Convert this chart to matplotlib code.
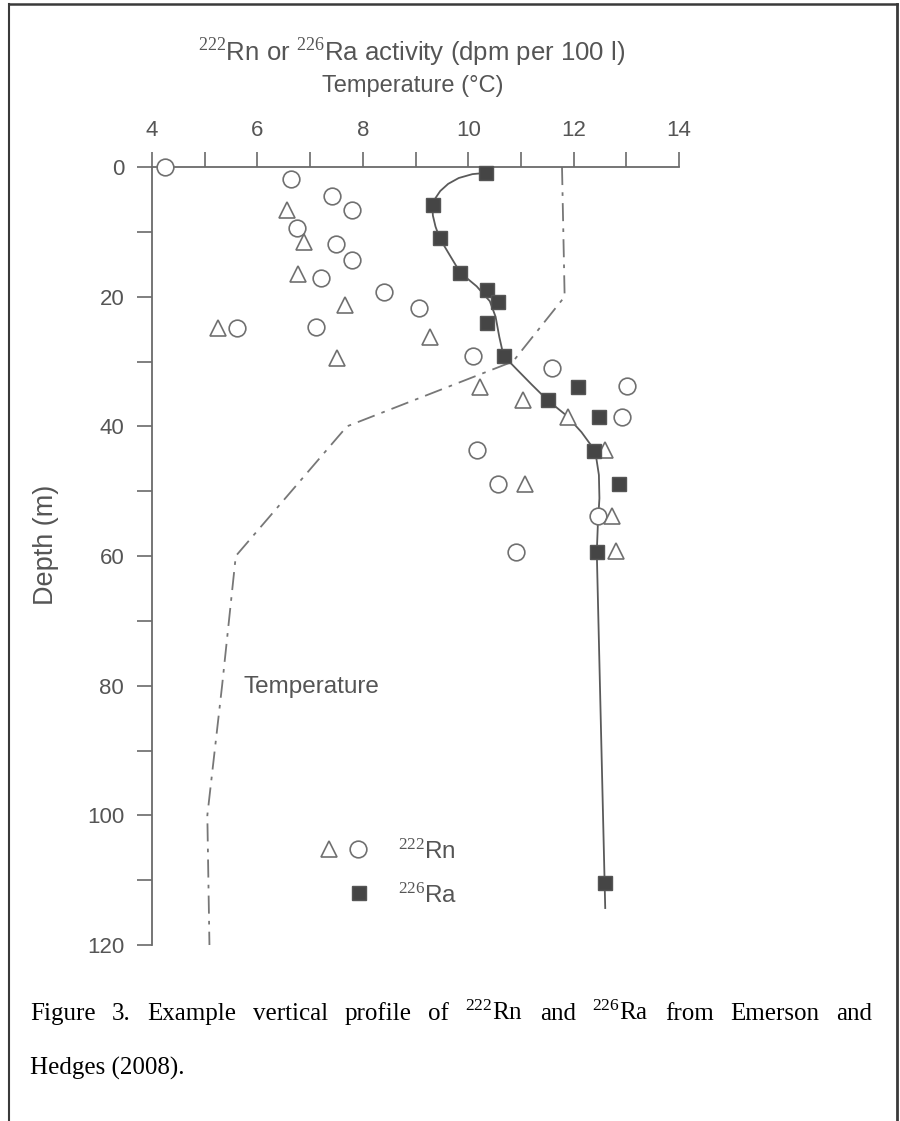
import matplotlib
matplotlib.use("Agg")
import matplotlib.pyplot as plt
import numpy as np

# ---------------- data ----------------
rn_circle_activity = [4.25, 6.64, 7.42, 7.79, 6.75, 7.50, 7.79, 7.21, 8.40, 9.07,
                      5.62, 7.12, 10.10, 11.59, 13.02, 12.91, 10.16, 10.57, 12.46, 10.90]
rn_circle_depth = [0.0, 1.9, 4.4, 6.7, 9.4, 11.9, 14.4, 17.1, 19.3, 21.8,
                   24.9, 24.7, 29.1, 31.0, 33.8, 38.6, 43.7, 48.9, 53.8, 59.4]

rn_triangle_activity = [6.57, 6.88, 6.77, 7.67, 5.25, 9.27, 7.51, 10.23, 11.04, 11.90,
                        12.60, 11.08, 12.73, 12.80]
rn_triangle_depth = [6.6, 11.5, 16.5, 21.3, 24.9, 26.2, 29.4, 34.0, 36.0, 38.6,
                     43.7, 48.9, 53.9, 59.2]

ra_activity = [10.34, 9.33, 9.46, 9.85, 10.36, 10.56, 10.36, 10.67, 12.08, 11.51,
               12.49, 12.39, 12.86, 12.44, 12.60]
ra_depth = [0.9, 5.9, 11.0, 16.3, 18.9, 20.8, 24.0, 29.1, 33.9, 36.0,
            38.6, 43.8, 48.9, 59.4, 110.4]

ra_curve_activity = [10.34, 10.08, 9.82, 9.62, 9.47, 9.37, 9.32, 9.33, 9.38, 9.46, 9.65,
                     9.85, 10.16, 10.41, 10.52, 10.59, 10.67, 10.92, 11.21, 11.51,
                     11.86, 12.15, 12.41, 12.48, 12.49, 12.46, 12.44, 12.60]
ra_curve_depth = [0.9, 1.1, 1.7, 2.6, 3.7, 4.9, 6.1, 7.5, 9.2, 11.0, 13.6,
                  16.3, 18.4, 20.7, 23.1, 26.2, 29.1, 31.2, 33.6, 36.0,
                  38.3, 40.9, 43.8, 47.5, 51.1, 55.2, 59.4, 114.3]

temperature = [11.78, 11.83, 10.85, 7.70, 5.59, 5.33, 5.05, 5.09]
temperature_depth = [0.0, 20.0, 30.0, 40.0, 60.0, 80.0, 100.0, 120.0]

x_ticks_major = [4, 6, 8, 10, 12, 14]
y_ticks_major = [0, 20, 40, 60, 80, 100, 120]

# ---------------- style ----------------
plt.rcParams['font.family'] = ['Liberation Sans', 'DejaVu Sans']
plt.rcParams['mathtext.fontset'] = 'custom'
plt.rcParams['mathtext.rm'] = 'Liberation Sans'
plt.rcParams['mathtext.it'] = 'Liberation Sans'

W, H = 900, 1121
fig = plt.figure(figsize=(W / 100, H / 100), dpi=100)
fig.patch.set_facecolor('white')

gray_text = '#555555'
axis_col = '#6a6a6a'

x0, x1 = 152, 679
y0, y1 = 167, 945
ax = fig.add_axes([x0 / W, 1 - y1 / H, (x1 - x0) / W, (y1 - y0) / H])
ax.set_facecolor('none')
ax.set_xlim(4, 14)
ax.set_ylim(120, 0)

for s in ['right', 'bottom']:
    ax.spines[s].set_visible(False)
for s in ['top', 'left']:
    ax.spines[s].set_color(axis_col)
    ax.spines[s].set_linewidth(1.3)

ax.xaxis.tick_top()
ax.set_xticks(np.arange(4, 15, 1), minor=True)
ax.set_xticks(x_ticks_major)
ax.set_xticklabels([str(v) for v in x_ticks_major])
ax.set_yticks(np.arange(0, 121, 10), minor=True)
ax.set_yticks(y_ticks_major)
ax.set_yticklabels([str(v) for v in y_ticks_major])
ax.tick_params(axis='both', which='both', direction='out', length=11, width=1.2,
               color=axis_col, labelcolor=gray_text, labelsize=16)
ax.tick_params(axis='x', which='both', pad=8)
ax.tick_params(axis='y', which='both', pad=9)

# temperature profile (dash-dot)
ax.plot(temperature, temperature_depth, color='#777777', lw=1.3,
        linestyle=(0, (10, 4, 2, 4)), clip_on=False)

# Ra fitted curve
ax.plot(ra_curve_activity, ra_curve_depth, color='#5a5a5a', lw=1.3, clip_on=False)

# markers
ax.plot(rn_circle_activity, rn_circle_depth, linestyle='none', marker='o', ms=12,
        mfc='white', mec='#707070', mew=1.2, clip_on=False, zorder=4)
ax.plot(rn_triangle_activity, rn_triangle_depth, linestyle='none', marker='^', ms=12,
        mfc='white', mec='#707070', mew=1.2, clip_on=False, zorder=4)
ax.plot(ra_activity, ra_depth, linestyle='none', marker='s', ms=10.5,
        mfc='#454545', mec='#555555', mew=1.0, clip_on=False, zorder=5)

# legend (drawn manually like the original)
def px(x, y):
    return x / W, 1 - y / H

fig.lines.append(plt.Line2D([329 / W], [1 - 849 / H], marker='^', ms=12, mfc='white',
                            mec='#707070', mew=1.2, linestyle='none',
                            transform=fig.transFigure))
fig.lines.append(plt.Line2D([358 / W], [1 - 849 / H], marker='o', ms=12, mfc='white',
                            mec='#707070', mew=1.2, linestyle='none',
                            transform=fig.transFigure))
fig.lines.append(plt.Line2D([359 / W], [1 - 893 / H], marker='s', ms=10.5, mfc='#454545',
                            mec='#555555', mew=1.0, linestyle='none',
                            transform=fig.transFigure))
fig.text(*px(398, 851), r'$^{222}$Rn', fontsize=17.5, color=gray_text, va='center', ha='left')
fig.text(*px(398, 895), r'$^{226}$Ra', fontsize=17.5, color=gray_text, va='center', ha='left')

fig.text(*px(243, 687), 'Temperature', fontsize=17.5, color=gray_text, va='center', ha='left')

# axis titles
fig.text(*px(412, 53), r'$^{222}$Rn or $^{226}$Ra activity (dpm per 100 l)', fontsize=18.5,
         color=gray_text, ha='center', va='center')
fig.text(*px(413, 86), 'Temperature (°C)', fontsize=17, color=gray_text,
         ha='center', va='center')
fig.text(*px(46, 545), 'Depth (m)', fontsize=19.5, color=gray_text, rotation=90,
         ha='center', va='center')

# frame
frame_col = '#3a3a3a'
fig.lines.append(plt.Line2D([9 / W, 897 / W], [1 - 4 / H, 1 - 4 / H], color=frame_col,
                            lw=1.8, transform=fig.transFigure))
fig.lines.append(plt.Line2D([9 / W, 9 / W], [1 - 4 / H, 0], color=frame_col,
                            lw=1.5, transform=fig.transFigure))
fig.lines.append(plt.Line2D([897 / W, 897 / W], [1 - 4 / H, 0], color=frame_col,
                            lw=2.0, transform=fig.transFigure))

# caption (justified first line)
cap_kw = dict(fontsize=18, color='black', va='baseline', ha='left',
              family=['Liberation Serif', 'DejaVu Serif'])
words = ['Figure', '3.', 'Example', 'vertical', 'profile', 'of', r'$\mathregular{^{222}}$Rn',
         'and', r'$\mathregular{^{226}}$Ra', 'from', 'Emerson', 'and']
plt.rcParams['mathtext.rm'] = 'Liberation Serif'
texts = [fig.text(0, 1 - 1020 / H, w, **cap_kw) for w in words]
fig.canvas.draw()
r = fig.canvas.get_renderer()
widths = [t.get_window_extent(r).width for t in texts]
cx0, cx1 = 30, 872
gap = (cx1 - cx0 - sum(widths)) / (len(words) - 1)
xc = cx0
for t, w in zip(texts, widths):
    t.set_x(xc / W)
    xc += w + gap
fig.text(30 / W, 1 - 1075 / H, 'Hedges (2008).', **cap_kw)

fig.savefig('out.png', dpi=100, facecolor='white')
